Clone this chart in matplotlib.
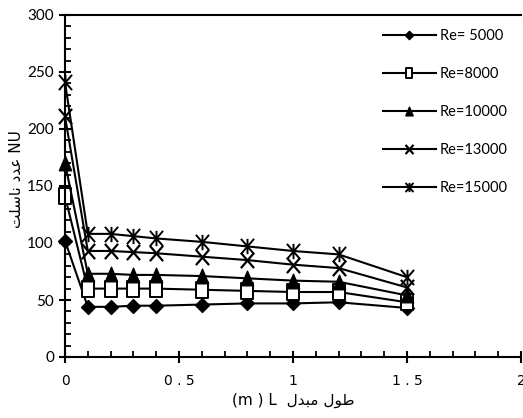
import matplotlib
matplotlib.use("Agg")
import matplotlib.pyplot as plt
from matplotlib.path import Path
from matplotlib.ticker import MultipleLocator, FixedLocator, FixedFormatter

# ---- data ----
x_len = [0, 0.1, 0.2, 0.3, 0.4, 0.6, 0.8, 1.0, 1.2, 1.5]
nu_5000 = [102, 44, 44, 45, 45, 46, 47, 47, 48, 43]
nu_8000 = [141, 60, 60, 60, 60, 59, 58, 57, 57, 48]
nu_10000 = [170, 73, 73, 72, 72, 71, 69, 67, 66, 54]
nu_13000 = [211, 93, 93, 92, 91, 88, 85, 81, 78, 61]
nu_15000 = [241, 108, 108, 106, 104, 101, 97, 93, 90, 70]
labels = ["Re= 5000", "Re=8000", "Re=10000", "Re=13000", "Re=15000"]
xtick_vals = [0, 0.5, 1, 1.5, 2]
xtick_labels = ["0", "0 . 5", "1", "1 . 5", "2"]

# Arabic text, pre-shaped in visual order
ylabel_txt = "\uFE96\uFEE0\uFEB3\uFE8E\uFEE7 \uFEA9\uFEAA\uFECB NU"
xlabel_txt = "(m ) L  \uFEDD\uFEAA\uFE92\uFEE3 \uFEDD\uFEEE\uFEC3"

# custom (slightly tall) markers
M, L, C = Path.MOVETO, Path.LINETO, Path.CLOSEPOLY
rect = Path([(-0.37, -0.5), (0.37, -0.5), (0.37, 0.5), (-0.37, 0.5), (-0.37, -0.5)], [M, L, L, L, C])
tri = Path([(-0.42, -0.5), (0.42, -0.5), (0, 0.5), (-0.42, -0.5)], [M, L, L, C])
diam = Path([(0, -0.5), (0.5, 0), (0, 0.5), (-0.5, 0), (0, -0.5)], [M, L, L, L, C])
cross = Path([(-0.43, -0.5), (0.43, 0.5), (-0.43, 0.5), (0.43, -0.5)], [M, L, M, L])
ast = Path([(-0.43, -0.5), (0.43, 0.5), (-0.43, 0.5), (0.43, -0.5), (0, -0.5), (0, 0.5)],
           [M, L, M, L, M, L])

fig = plt.figure(figsize=(5.23, 4.18), dpi=100)
ax = fig.add_axes([65/523, 1-357/418, (521-65)/523, (357-15)/418])

lw = 1.5
common = dict(color='black', lw=lw, clip_on=False)
ax.plot(x_len, nu_5000, marker=diam, ms=10, mfc='black', mec='black', mew=1, label=labels[0], **common)
ax.plot(x_len, nu_8000, marker=rect, ms=11, mfc='white', mec='black', mew=1.4, label=labels[1], **common)
ax.plot(x_len, nu_10000, marker=tri, ms=10.5, mfc='black', mec='black', mew=1, label=labels[2], **common)
ax.plot(x_len, nu_13000, marker=cross, ms=11, mew=1.6, mfc='none', mec='black', label=labels[3], **common)
ax.plot(x_len, nu_15000, marker=ast, ms=11, mew=1.4, mfc='none', mec='black', label=labels[4], **common)

ax.set_xlim(0, 2)
ax.set_ylim(0, 300)
ax.xaxis.set_major_locator(FixedLocator(xtick_vals))
ax.xaxis.set_major_formatter(FixedFormatter(xtick_labels))
ax.xaxis.set_minor_locator(MultipleLocator(0.1))
ax.yaxis.set_major_locator(MultipleLocator(50))
ax.yaxis.set_minor_locator(MultipleLocator(10))

ax.spines['right'].set_visible(False)
for s in ['left', 'bottom', 'top']:
    ax.spines[s].set_linewidth(1.5)

ax.tick_params(axis='both', which='major', direction='inout', length=8, width=1.5, pad=4)
ax.tick_params(axis='both', which='minor', direction='in', length=4, width=1.3)
ax.tick_params(axis='x', which='major', labelsize=10, pad=8)
ax.tick_params(axis='y', which='major', labelsize=11)
for t in ax.get_xticklabels():
    t.set_fontfamily('DejaVu Sans')
for t in ax.get_yticklabels():
    t.set_fontfamily('Lato')

ax.set_ylabel(ylabel_txt, fontsize=11, family=['DejaVu Sans'], labelpad=2)
ax.yaxis.set_label_coords(-0.09, 0.52)
ax.set_xlabel(xlabel_txt, fontsize=11, family=['DejaVu Sans'], labelpad=4)

leg = ax.legend(loc='upper left', bbox_to_anchor=((383-65)/456, 1-(29-15)/342),
                frameon=False, prop={'family': 'Lato', 'size': 10.5},
                handlelength=3.6, handletextpad=0.3, labelspacing=1.65,
                markerscale=0.6, borderpad=0, borderaxespad=0)

fig.savefig("out.png", dpi=100)
